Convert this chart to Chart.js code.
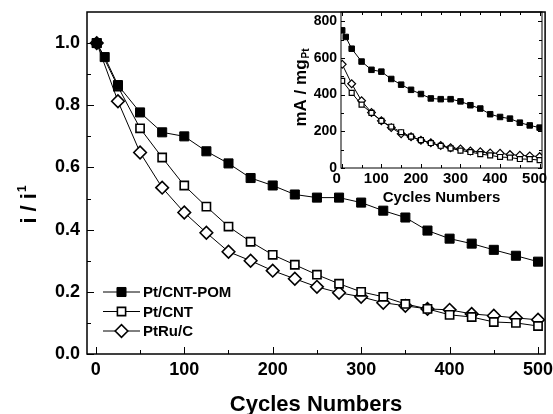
<!DOCTYPE html>
<html>
<head>
<meta charset="utf-8">
<script src="https://cdn.jsdelivr.net/npm/chart.js@4.4.0/dist/chart.umd.min.js"></script>
<style>
  html, body { margin: 0; padding: 0; background: #fff; }
  #wrap { position: relative; width: 553px; height: 414px; }
  #main { position: absolute; left: 0; top: 0; }
  #inset { position: absolute; left: 290px; top: 0; }
</style>
</head>
<body>
<div id="wrap">
  <canvas id="main" width="553" height="414"></canvas>
  <canvas id="inset" width="263" height="215"></canvas>
</div>
<script>
// ===== DADOS =====
const cycles = [1, 10, 25, 50, 75, 100, 125, 150, 175, 200, 225, 250, 275, 300, 325, 350, 375, 400, 425, 450, 475, 500];

// corrente normalizada i / i1 (grafico principal)
const pomNorm = [1.0, 0.955, 0.865, 0.777, 0.713, 0.70, 0.652, 0.613, 0.566, 0.542, 0.513, 0.503, 0.503, 0.487, 0.461, 0.439, 0.397, 0.371, 0.355, 0.335, 0.316, 0.297];
const cntNorm = [1.0, null, 0.86, 0.726, 0.632, 0.542, 0.474, 0.41, 0.361, 0.319, 0.287, 0.255, 0.226, 0.20, 0.184, 0.161, 0.145, 0.126, 0.119, 0.103, 0.10, 0.09];
const ruNorm  = [1.0, null, 0.813, 0.648, 0.535, 0.455, 0.39, 0.329, 0.30, 0.268, 0.242, 0.216, 0.197, 0.184, 0.165, 0.155, 0.145, 0.142, 0.129, 0.123, 0.116, 0.11];

// mA / mgPt (inset)
const pomMass = [750, 714, 650, 580, 535, 525, 485, 454, 426, 403, 379, 375, 375, 363, 342, 324, 293, 278, 269, 247, 232, 220];
const cntMass = [475, null, 409, 345, 300, 257, 225, 195, 171, 152, 136, 121, 107, 95, 87, 76, 69, 60, 57, 49, 48, 43];
const ruMass  = [565, null, 459, 366, 302, 257, 220, 186, 170, 151, 137, 122, 111, 104, 93, 88, 82, 80, 73, 69, 66, 62];

const seriesNames = ['Pt/CNT-POM', 'Pt/CNT', 'PtRu/C'];

// ticks
const mainXTicks = [0, 100, 200, 300, 400, 500];
const mainXMinor = [50, 150, 250, 350, 450];
const mainYTicks = [0, 0.2, 0.4, 0.6, 0.8, 1.0];
const mainYMinor = [0.1, 0.3, 0.5, 0.7, 0.9];
const insetXTicks = [0, 100, 200, 300, 400, 500];
const insetXMinor = [50, 150, 250, 350, 450];
const insetYTicks = [0, 200, 400, 600, 800];
const insetYMinor = [100, 300, 500, 700];

const FONT = '"Liberation Sans", Arial, Helvetica, sans-serif';

const pts = arr => cycles.map((c, i) => ({ x: c, y: arr[i] })).filter(p => p.y !== null);


// ===== MARCADORES =====
function drawMarker(ctx, style, x, y, r, fill, bw) {
  ctx.beginPath();
  if (style === 'rect') {
    const s = r * Math.SQRT1_2;
    ctx.rect(x - s, y - s, 2 * s, 2 * s);
  } else {
    ctx.moveTo(x - r, y);
    ctx.lineTo(x, y - r);
    ctx.lineTo(x + r, y);
    ctx.lineTo(x, y + r);
    ctx.closePath();
  }
  ctx.fillStyle = fill;
  ctx.fill();
  ctx.lineWidth = bw;
  ctx.strokeStyle = '#000';
  ctx.stroke();
}


// ===== PLUGIN: moldura, ticks internos, legenda, titulo Y =====
const framePlugin = {
  id: 'frame',
  afterDraw(chart, args, o) {
    const ctx = chart.ctx;
    const a = chart.chartArea;
    const xs = chart.scales.x, ys = chart.scales.y;
    ctx.save();
    ctx.strokeStyle = '#000';

    // ticks
    ctx.lineWidth = 1;
    const tickX = (v, len) => {
      const px = Math.round(xs.getPixelForValue(v)) + 0.5;
      ctx.beginPath(); ctx.moveTo(px, a.bottom); ctx.lineTo(px, a.bottom - len); ctx.stroke();
      if (o.mirror) { ctx.beginPath(); ctx.moveTo(px, a.top); ctx.lineTo(px, a.top + len); ctx.stroke(); }
    };
    const tickY = (v, len) => {
      const py = Math.round(ys.getPixelForValue(v)) + 0.5;
      ctx.beginPath(); ctx.moveTo(a.left, py); ctx.lineTo(a.left + len, py); ctx.stroke();
      if (o.mirror) { ctx.beginPath(); ctx.moveTo(a.right, py); ctx.lineTo(a.right - len, py); ctx.stroke(); }
    };
    o.xTicks.forEach(v => tickX(v, o.major));
    o.xMinor.forEach(v => tickX(v, o.minor));
    o.yTicks.forEach(v => tickY(v, o.major));
    o.yMinor.forEach(v => tickY(v, o.minor));

    // moldura
    ctx.lineWidth = o.frameWidth;
    ctx.strokeRect(a.left, a.top, a.right - a.left, a.bottom - a.top);

    // titulo Y com sobrescrito / subscrito
    const t = o.yTitle;
    ctx.translate(t.x, t.y);
    ctx.rotate(-Math.PI / 2);
    ctx.fillStyle = '#000';
    ctx.textBaseline = 'alphabetic';
    ctx.textAlign = 'left';
    ctx.font = `bold ${t.size}px ${FONT}`;
    const w1 = ctx.measureText(t.main).width;
    ctx.font = `bold ${t.smallSize}px ${FONT}`;
    const w2 = ctx.measureText(t.small).width;
    const x0 = -(w1 + w2) / 2;
    ctx.font = `bold ${t.size}px ${FONT}`;
    ctx.fillText(t.main, x0, t.base);
    ctx.font = `bold ${t.smallSize}px ${FONT}`;
    ctx.fillText(t.small, x0 + w1 + 1, t.base + t.smallShift);
    ctx.restore();

    // legenda
    if (o.legend) {
      const L = o.legend;
      ctx.save();
      ctx.font = `bold ${L.size}px ${FONT}`;
      ctx.textBaseline = 'middle';
      chart.data.datasets.forEach((ds, i) => {
        const y = L.y + i * L.gap;
        ctx.strokeStyle = '#000';
        ctx.lineWidth = 1;
        ctx.beginPath(); ctx.moveTo(L.x, y); ctx.lineTo(L.x + L.len, y); ctx.stroke();
        drawMarker(ctx, ds.pointStyle, L.x + L.len / 2, y, ds.pointRadius, ds.pointBackgroundColor, ds.pointBorderWidth);
        ctx.fillStyle = '#000';
        ctx.fillText(ds.label, L.x + L.len + 3, y + 1);
      });
      ctx.restore();
    }
  }
};


// ===== GRAFICO PRINCIPAL =====
function mkDataset(label, data, style, r, fill, bw) {
  return {
    label, data,
    borderColor: '#000', borderWidth: 1,
    pointStyle: style, pointRadius: r, pointHoverRadius: r,
    pointBackgroundColor: fill, pointBorderColor: '#000', pointBorderWidth: bw,
    showLine: true, tension: 0
  };
}

new Chart(document.getElementById('main'), {
  type: 'scatter',
  data: {
    datasets: [
      mkDataset(seriesNames[0], pts(pomNorm), 'rect', 6.4, '#000', 1),
      mkDataset(seriesNames[1], pts(cntNorm), 'rect', 5.8, '#fff', 1.6),
      mkDataset(seriesNames[2], pts(ruNorm), 'rectRot', 6.3, '#fff', 1.6)
    ]
  },
  options: {
    responsive: false,
    animation: false,
    layout: { padding: { left: 0, top: 12, right: 5, bottom: 0 } },
    plugins: {
      legend: { display: false },
      tooltip: { enabled: false },
      frame: {
        xTicks: mainXTicks, xMinor: mainXMinor, yTicks: mainYTicks, yMinor: mainYMinor,
        major: 7, minor: 4, mirror: false, frameWidth: 1.5,
        yTitle: { x: 28, y: 205, main: 'i / i', small: '1', size: 22, smallSize: 12, base: 8, smallShift: -10 },
        legend: { x: 103, y: 292, gap: 19.5, len: 37, size: 15 }
      }
    },
    scales: {
      x: {
        type: 'linear', min: -10, max: 508,
        afterBuildTicks: s => { s.ticks = mainXTicks.map(v => ({ value: v })); },
        afterFit: s => { s.height = 60; s.paddingLeft = 0; s.paddingRight = 0; },
        grid: { display: false, drawTicks: false },
        border: { display: false },
        ticks: { padding: 5, color: '#000', font: { family: FONT, size: 18, weight: 'bold' } },
        title: { display: true, text: 'Cycles Numbers', color: '#000', padding: { top: 0, bottom: -2 },
                 font: { family: FONT, size: 22, weight: 'bold', lineHeight: 1 } }
      },
      y: {
        type: 'linear', min: 0, max: 1.1,
        afterBuildTicks: s => { s.ticks = mainYTicks.map(v => ({ value: v })); },
        afterFit: s => { s.width = 87; s.paddingTop = 0; s.paddingBottom = 0; },
        grid: { display: false, drawTicks: false },
        border: { display: false },
        ticks: { padding: 7, color: '#000', font: { family: FONT, size: 18, weight: 'bold' },
                 callback: v => v.toFixed(1) }
      }
    }
  },
  plugins: [framePlugin]
});


// ===== INSET =====
new Chart(document.getElementById('inset'), {
  type: 'scatter',
  data: {
    datasets: [
      mkDataset(seriesNames[0], pts(pomMass), 'rect', 3.9, '#000', 1),
      mkDataset(seriesNames[1], pts(cntMass), 'rect', 3.5, '#fff', 1.2),
      mkDataset(seriesNames[2], pts(ruMass), 'rectRot', 3.9, '#fff', 1.2)
    ]
  },
  options: {
    responsive: false,
    animation: false,
    layout: { padding: { left: 0, top: 12, right: 11, bottom: 0 } },
    plugins: {
      legend: { display: false },
      tooltip: { enabled: false },
      frame: {
        xTicks: insetXTicks, xMinor: insetXMinor, yTicks: insetYTicks, yMinor: insetYMinor,
        major: 4, minor: 3, mirror: true, frameWidth: 1,
        yTitle: { x: 10, y: 88, main: 'mA / mg', small: 'Pt', size: 17, smallSize: 10, base: 6, smallShift: 3 }
      }
    },
    scales: {
      x: {
        type: 'linear', min: -2, max: 506,
        afterBuildTicks: s => { s.ticks = insetXTicks.map(v => ({ value: v })); },
        afterFit: s => { s.height = 47; s.paddingLeft = 0; s.paddingRight = 0; },
        grid: { display: false, drawTicks: false },
        border: { display: false },
        ticks: { padding: 2, labelOffset: -5, color: '#000', font: { family: FONT, size: 15, weight: 'bold' } },
        title: { display: true, text: 'Cycles Numbers', color: '#000', padding: { top: 0, bottom: 10 },
                 font: { family: FONT, size: 15, weight: 'bold', lineHeight: 1 } }
      },
      y: {
        type: 'linear', min: 0, max: 850,
        afterBuildTicks: s => { s.ticks = insetYTicks.map(v => ({ value: v })); },
        afterFit: s => { s.width = 51; s.paddingTop = 0; s.paddingBottom = 0; },
        grid: { display: false, drawTicks: false },
        border: { display: false },
        ticks: { padding: 4, color: '#000', font: { family: FONT, size: 14, weight: 'bold' } }
      }
    }
  },
  plugins: [framePlugin]
});
</script>
</body>
</html>
